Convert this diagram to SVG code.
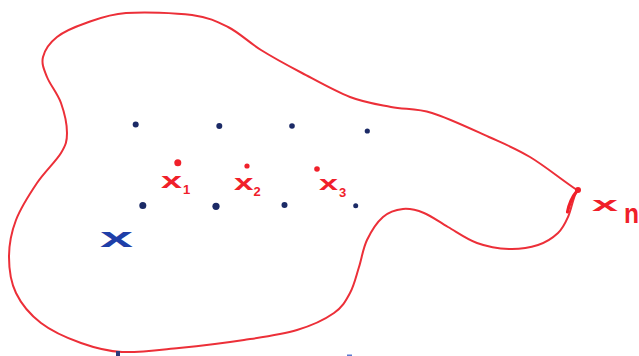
<svg xmlns="http://www.w3.org/2000/svg" width="639" height="356" viewBox="0 0 639 356">
  <style>
    .outline { fill: none; stroke: #ec2f38; stroke-width: 2; stroke-linecap: round; stroke-linejoin: round; }
    .pt { fill: #1b2a66; }
    .rpt { fill: #f0202a; }
    .rlab { fill: #f0202a; font-family: "Liberation Sans", Arial, sans-serif; font-weight: bold; }
    .blab { fill: #1f3fa8; font-family: "Liberation Sans", Arial, sans-serif; font-weight: bold; }
  </style>
  <rect width="639" height="356" fill="#ffffff"/>

  <!-- closed region boundary -->
  <g id="region">
    <path class="outline" d="M126,13 C143.7,11.7 175,12.7 192,15 C209,17.3 216.5,21.2 228,27 C239.5,32.8 248.7,42.3 261,50 C273.3,57.7 287.2,65.2 302,73 C316.8,80.8 335.2,91.3 350,97 C364.8,102.7 377.3,104.3 391,107 C404.7,109.7 415.7,108 432,113 C448.3,118 472.7,129.7 489,137 C505.3,144.3 515.3,148.2 530,157 C544.7,165.8 562,180 577,190 C573,198 571.2,209.8 568,217 C564.8,224.2 563,228.3 558,233 C553,237.7 546.2,242.3 538,245 C529.8,247.7 519.2,249.3 509,249 C498.8,248.7 487.2,246.7 477,243 C466.8,239.3 456.8,232 448,227 C439.2,222 431.5,216 424,213 C416.5,210 409.8,208.3 403,209 C396.2,209.7 389,211.8 383,217 C377,222.2 371,231.7 367,240 C363,248.3 361.8,258.2 359,267 C356.2,275.8 354.2,285.3 350,293 C345.8,300.7 342.8,306.8 334,313 C325.2,319.2 312,325.5 297,330 C282,334.5 263.7,337 244,340 C224.3,343 199.3,346 179,348 C158.7,350 138.3,352.8 122,352 C105.7,351.2 94.5,347.8 81,343 C67.5,338.2 51.8,331.3 41,323 C30.2,314.7 21.3,304 16,293 C10.7,282 9,269.2 9,257 C9,244.8 11.3,232.3 16,220 C20.7,207.7 29.5,194.2 37,183 C44.5,171.8 56,161.3 61,153 C66,144.7 67,141.3 67,133 C67,124.7 64.3,112.3 61,103 C57.7,93.7 50,84.7 47,77 C44,69.3 41.3,63.7 43,57 C44.7,50.3 49.8,42.7 57,37 C64.2,31.3 74.5,27 86,23 C97.5,19 108.3,14.3 126,13 Z"/>
    <!-- heavier stroke at the boundary point -->
    <path d="M577,191 C572,197 569,204 567.5,212" fill="none" stroke="#f0202a" stroke-width="3.2" stroke-linecap="round"/>
    <circle class="rpt" cx="578" cy="190" r="3"/>
  </g>

  <!-- sample points inside the region -->
  <g id="points">
    <circle class="pt" cx="135.7" cy="124.5" r="3"/>
    <circle class="pt" cx="219.3" cy="126" r="3"/>
    <circle class="pt" cx="292" cy="126" r="2.8"/>
    <circle class="pt" cx="367.3" cy="131" r="2.6"/>
    <circle class="pt" cx="142.8" cy="205.5" r="3.5"/>
    <circle class="pt" cx="216" cy="206.3" r="3.6"/>
    <circle class="pt" cx="284.5" cy="205" r="3"/>
    <circle class="pt" cx="355.7" cy="205.8" r="2.5"/>
  </g>

  <!-- labelled points x1, x2, x3 -->
  <g id="x1">
    <circle class="rpt" cx="177.8" cy="162.8" r="3.5"/>
    <text class="rlab" x="161" y="187.5" font-size="22" textLength="21" lengthAdjust="spacingAndGlyphs">x</text>
    <text class="rlab" x="183" y="194" font-size="13" font-weight="normal">1</text>
  </g>
  <g id="x2">
    <circle class="rpt" cx="247" cy="166" r="2.6"/>
    <text class="rlab" x="234" y="190" font-size="22" textLength="19.5" lengthAdjust="spacingAndGlyphs">x</text>
    <text class="rlab" x="253.5" y="196" font-size="13">2</text>
  </g>
  <g id="x3">
    <circle class="rpt" cx="317" cy="169" r="2.8"/>
    <text class="rlab" x="319" y="190" font-size="20" textLength="19" lengthAdjust="spacingAndGlyphs">x</text>
    <text class="rlab" x="339" y="197" font-size="13">3</text>
  </g>

  <!-- boundary point label -->
  <g id="xn">
    <text class="rlab" x="592" y="211" font-size="21" textLength="26" lengthAdjust="spacingAndGlyphs">x</text>
    <text class="rlab" x="624" y="223" font-size="27" font-weight="normal" textLength="15" lengthAdjust="spacingAndGlyphs">n</text>
  </g>

  <!-- generic point label -->
  <g id="x">
    <text class="blab" x="100" y="246.5" font-size="27" textLength="33" lengthAdjust="spacingAndGlyphs">x</text>
  </g>

  <!-- marks cut off at the lower edge -->
  <g id="edge-marks">
    <rect x="116" y="351" width="4" height="5" fill="#2a3a7a"/>
    <rect x="347" y="354.5" width="5" height="1.5" fill="#5a7ad0"/>
  </g>
</svg>
